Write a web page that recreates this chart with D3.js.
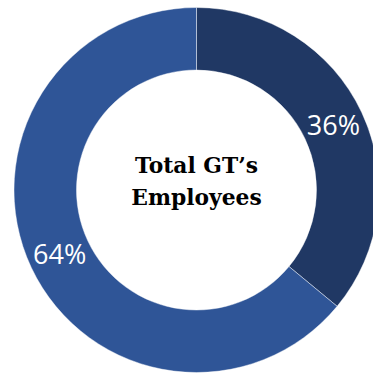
<!DOCTYPE html>
<html>
<head>
<meta charset="utf-8">
<script src="https://cdn.jsdelivr.net/npm/d3@7"></script>
<style>
  html, body { margin: 0; padding: 0; background: #ffffff; }
  svg { display: block; }
</style>
</head>
<body>
<svg id="chart" width="373" height="373"></svg>
<script>
// Share of employees by group
const categories = ["Group A", "Group B"];
const values = [36, 64];
const labels = ["36%", "64%"];
const colors = ["#203864", "#2F5597"];
const centerTitle = ["Total GT\u2019s", "Employees"];

const svg = d3.select("#chart");
const cx = 196.5, cy = 190;
const outerR = 182.5, innerR = 120;

const g = svg.append("g").attr("transform", `translate(${cx},${cy})`);

const pie = d3.pie().sort(null).value(d => d.value);
const arcs = pie(categories.map((c, i) => ({ name: c, value: values[i], label: labels[i], color: colors[i] })));

const arc = d3.arc().innerRadius(innerR).outerRadius(outerR);

g.selectAll("path.slice")
  .data(arcs)
  .join("path")
  .attr("class", "slice")
  .attr("d", arc)
  .attr("fill", d => d.data.color)
  .attr("stroke", "#ffffff")
  .attr("stroke-opacity", 0.55)
  .attr("stroke-width", 0.8);

g.selectAll("text.pct")
  .data(arcs)
  .join("text")
  .attr("class", "pct")
  .attr("transform", d => `translate(${arc.centroid(d)})`)
  .attr("text-anchor", "middle")
  .attr("dy", "0.36em")
  .attr("fill", "#ffffff")
  .attr("font-family", "'Open Sans', 'Noto Sans', sans-serif")
  .attr("font-size", 27)
  .text(d => d.data.label);

const title = g.append("text")
  .attr("text-anchor", "middle")
  .attr("font-family", "'DejaVu Serif', serif")
  .attr("font-weight", "bold")
  .attr("font-size", 21.8)
  .attr("fill", "#000000");

title.selectAll("tspan")
  .data(centerTitle)
  .join("tspan")
  .attr("x", 0)
  .attr("y", (d, i) => -17 + i * 32)
  .text(d => d);
</script>
</body>
</html>
